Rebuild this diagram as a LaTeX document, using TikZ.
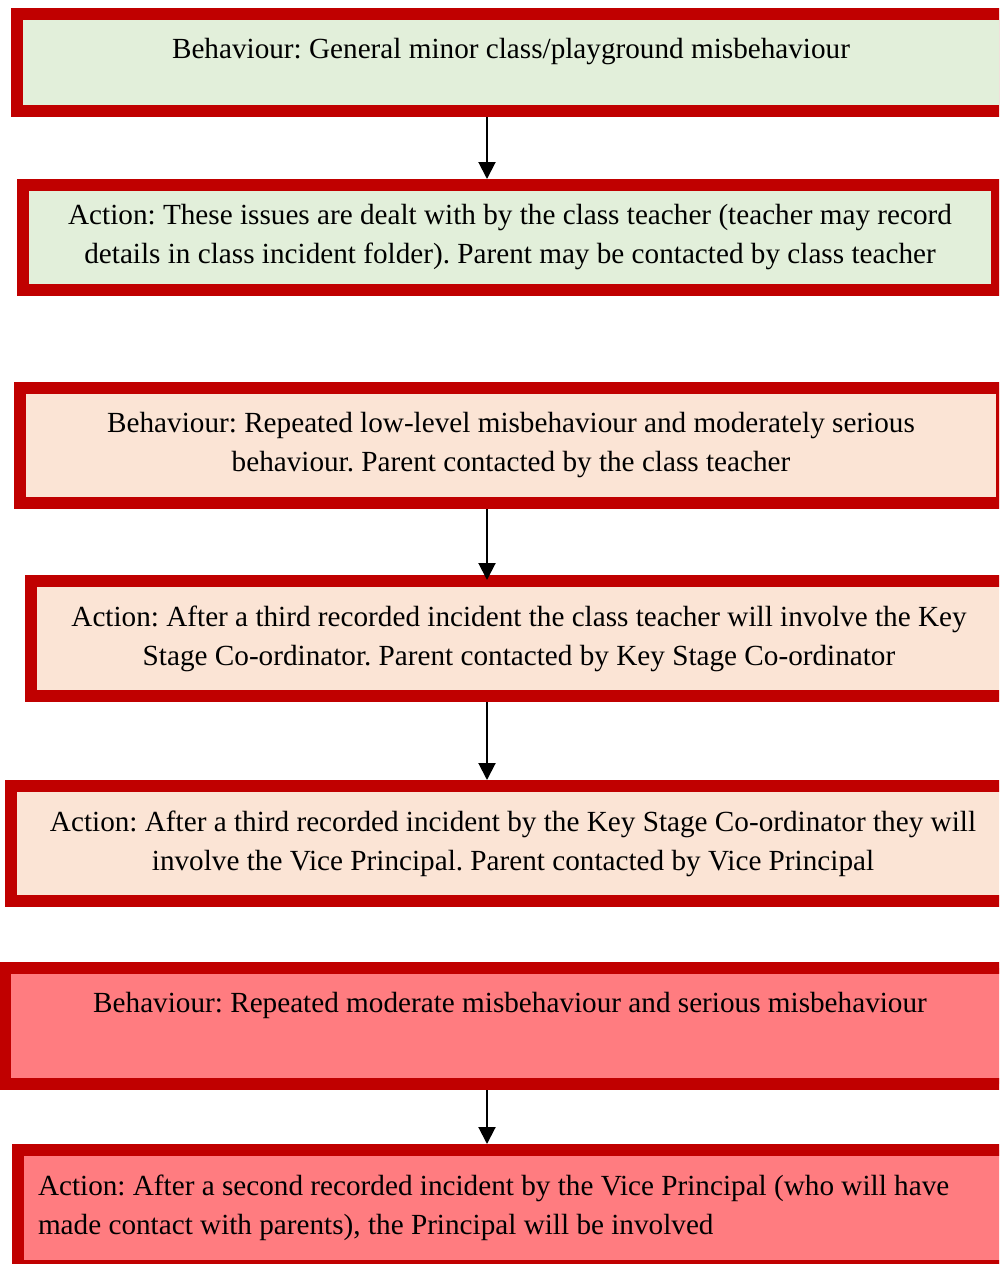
\documentclass[tikz,border=0pt]{standalone}
\usepackage{fontspec}
\setmainfont{Liberation Serif}
\usetikzlibrary{arrows.meta}
\frenchspacing

\definecolor{borderred}{HTML}{C00000}
\definecolor{lowgreen}{HTML}{E2EFDA}
\definecolor{midpeach}{HTML}{FBE4D5}
\definecolor{highpink}{HTML}{FF7C80}

\tikzset{
	levelbox/.style={draw=borderred, line width=12pt, rectangle, inner sep=0pt,
		align=center, font=\fontsize{29.2}{39}\selectfont},
	greenbox/.style={levelbox, fill=lowgreen},
	peachbox/.style={levelbox, fill=midpeach},
	pinkbox/.style={levelbox, fill=highpink},
	flowarrow/.style={-{Triangle[length=17pt,width=17pt]}, line width=2pt}
}

\begin{document}
\begin{tikzpicture}[x=1pt,y=-1pt]
			\useasboundingbox (0,0) rectangle (999,1264);
			\clip (0,0) rectangle (999,1264);

			% minor misbehaviour
			\node[greenbox, minimum width=988pt, minimum height=97pt] (b1) at (511,62.5)
				{Behaviour: General minor class/playground misbehaviour\\[-10pt] \mbox{}};
			\node[greenbox, minimum width=974pt, minimum height=105pt] (b2) at (510,237.5)
				{Action: These issues are dealt with by the class teacher (teacher may record\\
				details in class incident folder). Parent may be contacted by class teacher};

			% repeated low-level
			\node[peachbox, minimum width=982pt, minimum height=115pt] (b3) at (511,445.5)
				{Behaviour: Repeated low-level misbehaviour and moderately serious\\
				behaviour. Parent contacted by the class teacher};
			\node[peachbox, minimum width=976pt, minimum height=115pt] (b4) at (519,638.5)
				{Action: After a third recorded incident the class teacher will involve the Key\\
				Stage Co-ordinator. Parent contacted by Key Stage Co-ordinator};
			\node[peachbox, minimum width=1004pt, minimum height=115pt] (b5) at (513,843.5)
				{Action: After a third recorded incident by the Key Stage Co-ordinator they will\\
				involve the Vice Principal. Parent contacted by Vice Principal};

			% serious misbehaviour
			\node[pinkbox, minimum width=1010pt, minimum height=116pt] (b6) at (510,1026)
				{Behaviour: Repeated moderate misbehaviour and serious misbehaviour\\[8pt] \mbox{}};
			\node[pinkbox, anchor=west, align=flush left, inner xsep=20pt, text width=972pt,
				minimum height=116pt] (b7) at (12,1208)
				{Action: After a second recorded incident by the Vice Principal (who will have\\
				made contact with parents), the Principal will be involved};

			\coordinate (ax) at (487,0);
			\draw[flowarrow] (b1.south -| ax) -- (b2.north -| ax);
			\draw[flowarrow] (b3.south -| ax) -- ([yshift=-5pt]b4.north -| ax);
			\draw[flowarrow] (b4.south -| ax) -- (b5.north -| ax);
			\draw[flowarrow] (b6.south -| ax) -- (b7.north -| ax);
\end{tikzpicture}
\end{document}
